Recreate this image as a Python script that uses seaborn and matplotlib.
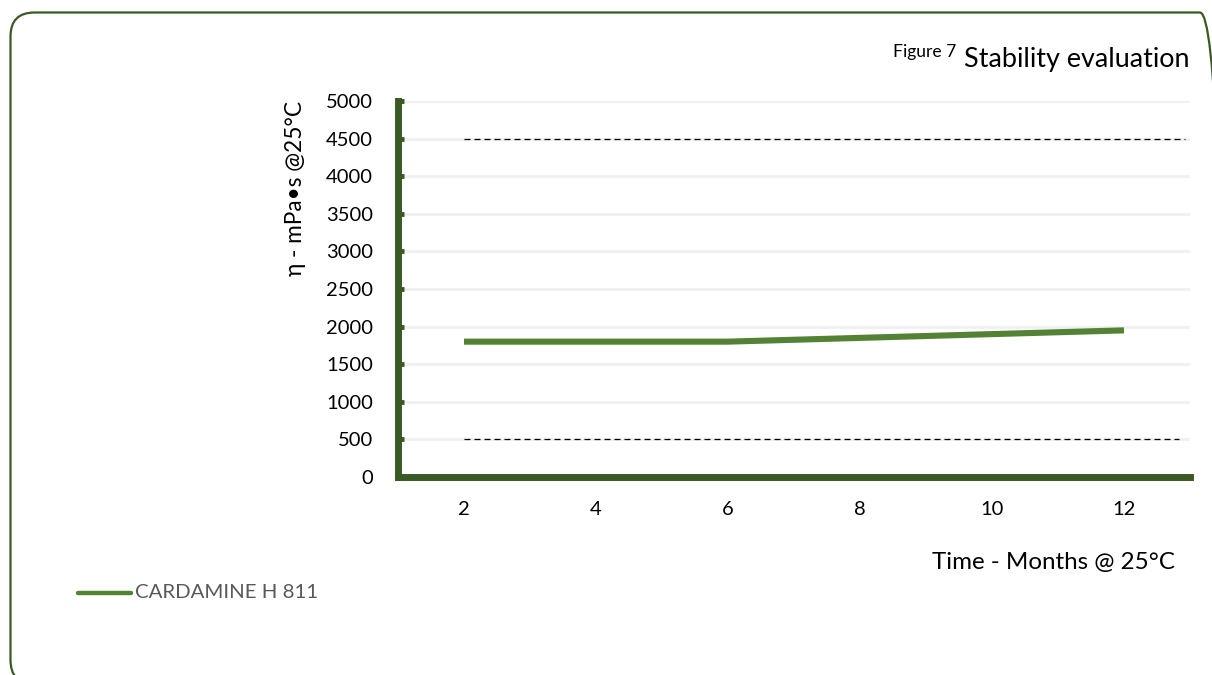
import matplotlib
matplotlib.use("Agg")
import matplotlib.pyplot as plt
from matplotlib.patches import FancyBboxPatch
from matplotlib.lines import Line2D
from matplotlib.transforms import Affine2D
import seaborn as sns
import pandas as pd

# Viscosity stability data
months = ["2", "4", "6", "8", "10", "12"]
viscosity = [1800, 1800, 1800, 1850, 1900, 1950]
upper_limit = 4500
lower_limit = 500
series_name = "CARDAMINE H 811"
y_ticks = [0, 500, 1000, 1500, 2000, 2500, 3000, 3500, 4000, 4500, 5000]

LINE_GREEN = "#548235"
AXIS_GREEN = "#3a5a25"

sns.set_theme(style="white")
plt.rcParams["font.family"] = ["Lato", "DejaVu Sans"]

W, H = 1212, 675
fig = plt.figure(figsize=(W / 100, H / 100), dpi=100)
renderer = fig.canvas.get_renderer()
# pixel units of the 1212x675 canvas, origin bottom-left, independent of dpi
px = Affine2D().scale(1 / W, 1 / H) + fig.transFigure


def fit_width(txt, width_px):
    """Scale a text's font size so its rendered width equals width_px."""
    w = txt.get_window_extent(renderer).width
    txt.set_fontsize(txt.get_fontsize() * width_px / w)
    return txt


def size_for(label, width_px, base=14):
    """Font size at which `label` renders width_px wide."""
    probe = fig.text(0, 0, label, fontsize=base)
    w = probe.get_window_extent(renderer).width
    probe.remove()
    return base * width_px / w


ax = fig.add_axes([398 / W, 1 - 477 / H, (1190 - 398) / W, (477 - 101) / H])

df = pd.DataFrame({"month": months, "viscosity": viscosity, "pos": range(len(months))})

# gridlines
for v in y_ticks[1:]:
    ax.axhline(v, color="#f0f0f0", lw=2, zorder=0)

# limit lines
ax.plot([0, 5.46], [upper_limit, upper_limit], color="black", lw=0.9,
        ls=(0, (4.8, 3.2)), zorder=1)
ax.plot([0, 5.42], [lower_limit, lower_limit], color="black", lw=0.9,
        ls=(0, (4.8, 3.2)), zorder=1)

sns.lineplot(data=df, x="pos", y="viscosity", ax=ax, color=LINE_GREEN, lw=4.4,
             solid_capstyle="butt", zorder=3, legend=False)

ax.set_xlim(-0.5, len(months) - 0.5)
ax.set_ylim(0, 5000)
ax.set_xticks(range(len(months)))
ax.set_xticklabels(months)
ax.set_yticks(y_ticks)
ax.set_yticklabels([str(v) for v in y_ticks])
ax.set_xlabel("")
ax.set_ylabel("")

for s in ["top", "right"]:
    ax.spines[s].set_visible(False)
for s in ["left", "bottom"]:
    ax.spines[s].set_color(AXIS_GREEN)
    ax.spines[s].set_linewidth(5)
ax.spines["left"].set_capstyle("projecting")

tick_size = size_for("5000", 47)
ax.tick_params(axis="y", direction="in", length=4, width=3.5, color=AXIS_GREEN,
               labelsize=tick_size, labelcolor="black", pad=18, left=True)
ax.tick_params(axis="x", length=0, labelsize=tick_size, labelcolor="black", pad=17)

# axis titles
ylab = fig.text(296 / W, 1 - 188 / H, "η - mPa•s @25°C", rotation=90, ha="center",
                va="center", fontsize=14, color="black")
h = ylab.get_window_extent(renderer).height
ylab.set_fontsize(14 * 175 / h)
xlab = fig.text(1175 / W, 1 - 563 / H, "Time - Months @ 25°C", ha="right", va="center",
                fontsize=14, color="black")
fit_width(xlab, 243)

# figure title
title = fig.text(1190 / W, 1 - 60 / H, "Stability evaluation", ha="right", va="center",
                 fontsize=16, color="black")
fit_width(title, 227)
sup = fig.text(956 / W, 1 - 52 / H, "Figure 7", ha="right", va="center",
               fontsize=10, color="black")
fit_width(sup, 63)

# legend
fig.add_artist(Line2D([78 / W, 131 / W], [1 - 593 / H, 1 - 593 / H], color=LINE_GREEN,
                      lw=3.2, solid_capstyle="round"))
leg = fig.text(135 / W, 1 - 593 / H, series_name, ha="left", va="center", fontsize=12,
               color="#595959")
fit_width(leg, 182)

# rounded frame running off the right and bottom edges
frame = FancyBboxPatch((10.5, H - 684), 1224 - 10.5, 684 - 12.5,
                       boxstyle="round,pad=0,rounding_size=24",
                       transform=px, fill=False, ec=AXIS_GREEN, lw=1.6)
fig.add_artist(frame)

fig.savefig("out.png", dpi=100, facecolor="white")
